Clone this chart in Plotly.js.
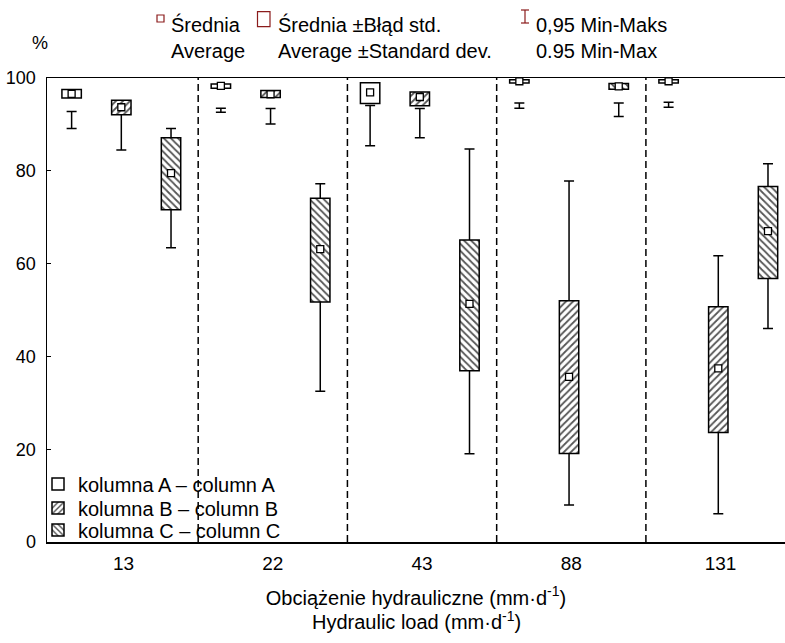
<!DOCTYPE html>
<html><head><meta charset="utf-8">
<script src="https://cdn.plot.ly/plotly-3.0.1.min.js"></script>
<style>html,body{margin:0;padding:0;background:#fff}</style>
</head><body>
<div id="chart" style="width:785px;height:643px"></div>
<script>
// ---- data ----
const categories = ['13', '22', '43', '88', '131'];

const A_mean = [96.6, 98.3, 96.9, 99.3, 99.3];
const A_lo   = [95.7, 97.8, 94.5, 98.9, 98.9];
const A_hi   = [97.5, 98.7, 99.0, 99.6, 99.6];
const A_wmin = [89.1, 92.6, 85.4, 93.5, 93.7];
const A_wmax = [92.8, 93.5, 94.1, 94.6, 94.8];

const B_mean = [93.7, 96.5, 95.9, 35.6, 37.4];
const B_lo   = [92.1, 95.8, 94.0, 19.1, 23.6];
const B_hi   = [95.2, 97.3, 97.0, 52.0, 50.7];
const B_wmin = [84.5, 90.1, 87.1, 8.0, 6.1];
const B_wmax = [94.5, 93.4, 93.4, 77.8, 61.7];

const C_mean = [79.5, 63.1, 51.3, 98.2, 67.0];
const C_lo   = [71.6, 51.7, 36.9, 97.6, 56.8];
const C_hi   = [87.1, 74.1, 65.1, 98.8, 76.6];
const C_wmin = [63.4, 32.5, 19.0, 91.7, 46.0];
const C_wmax = [89.1, 77.2, 84.7, 94.6, 81.5];

const seriesNames = ['kolumna A – column A', 'kolumna B – column B', 'kolumna C – column C'];
const xTitleLines = ['Obciążenie hydrauliczne (mm·d<sup>-1</sup>)', 'Hydraulic load (mm·d<sup>-1</sup>)'];

// ---- layout helpers ----
const FONT = '"Liberation Sans", Arial, sans-serif';
const W = 785, H = 643, ML = 47, MR = 0, MT = 78, MB = 101;
const PW = W - ML - MR, PH = H - MT - MB;
const px = x => (x - ML) / PW;
const py = y => (H - MB - y) / PH;
const XR = [-0.513, 4.432];
const BOXW = 0.13;
const RED = '#8b1c1c';

function build(lo, hi, mean, wmin, wmax, off, name, legendId, pattern) {
  const xs = categories.map((c, i) => i + off);
  const whisk = {
    type: 'scatter', mode: 'markers', x: xs,
    y: wmin.map((v, i) => (v + wmax[i]) / 2),
    marker: {size: 1, color: 'rgba(0,0,0,0)'},
    error_y: {type: 'data', symmetric: false,
      array: wmax.map((v, i) => v - (v + wmin[i]) / 2),
      arrayminus: wmin.map((v, i) => (v + wmax[i]) / 2 - v),
      width: 5, thickness: 1.5, color: '#000'},
    cliponaxis: false, showlegend: false, hoverinfo: 'skip', xaxis: 'x', yaxis: 'y'
  };
  const marker = {color: '#fff', line: {color: '#000', width: 1.5}};
  if (pattern) marker.pattern = {shape: pattern, fgcolor: '#555', bgcolor: '#fff', size: 5, solidity: 0.35, fillmode: 'replace'};
  const box = {
    type: 'bar', name: name, x: xs, base: lo, y: hi.map((v, i) => v - lo[i]),
    width: BOXW, marker: marker, legend: legendId,
    xaxis: 'x2', yaxis: 'y2', hoverinfo: 'skip'
  };
  const mk = {
    type: 'scatter', mode: 'markers', x: xs, y: mean,
    marker: {symbol: 'square', size: 7, color: '#fff', line: {color: '#000', width: 1.3}},
    cliponaxis: false, showlegend: false, hoverinfo: 'skip', xaxis: 'x2', yaxis: 'y2'
  };
  return [whisk, box, mk];
}

const tA = build(A_lo, A_hi, A_mean, A_wmin, A_wmax, -0.348, seriesNames[0], 'legend', null);
const tB = build(B_lo, B_hi, B_mean, B_wmin, B_wmax, -0.015, seriesNames[1], 'legend2', '/');
const tC = build(C_lo, C_hi, C_mean, C_wmin, C_wmax, 0.318, seriesNames[2], 'legend3', '\\');
const data = [tA[0], tB[0], tC[0], tA[1], tB[1], tC[1], tA[2], tB[2], tC[2]];

const shapes = [];
categories.slice(1).forEach((c, i) => {
  shapes.push({type: 'line', xref: 'x', yref: 'paper', x0: i + 0.5, x1: i + 0.5, y0: 0, y1: 1,
    line: {color: '#000', width: 1.5, dash: '7px,4px'}});
});
// top legend icons
shapes.push({type: 'rect', xref: 'paper', yref: 'paper', x0: px(157), x1: px(164), y0: py(22), y1: py(15), line: {color: RED, width: 1.2}, fillcolor: '#fff'});
shapes.push({type: 'rect', xref: 'paper', yref: 'paper', x0: px(257.5), x1: px(270), y0: py(26.7), y1: py(11.7), line: {color: RED, width: 1.2}, fillcolor: '#fff'});
shapes.push({type: 'line', xref: 'paper', yref: 'paper', x0: px(525), x1: px(525), y0: py(23), y1: py(10), line: {color: RED, width: 1.2}});
shapes.push({type: 'line', xref: 'paper', yref: 'paper', x0: px(521), x1: px(529), y0: py(10), y1: py(10), line: {color: RED, width: 1.2}});
shapes.push({type: 'line', xref: 'paper', yref: 'paper', x0: px(521), x1: px(529), y0: py(23), y1: py(23), line: {color: RED, width: 1.2}});

const tf = {family: FONT, size: 20, color: '#000'};
const annotations = [
  {text: 'Średnia<br>Average', x: px(169), y: py(38)},
  {text: 'Średnia ±Błąd std.<br>Average ±Standard dev.', x: px(276), y: py(38)},
  {text: '0,95 Min-Maks<br>0.95 Min-Max', x: px(534), y: py(38)}
].map(a => Object.assign({xref: 'paper', yref: 'paper', xanchor: 'left', yanchor: 'middle', align: 'left', showarrow: false, font: tf}, a));
annotations.push({text: '%', xref: 'paper', yref: 'paper', x: px(40), y: py(43), xanchor: 'center', yanchor: 'middle', showarrow: false, font: {family: FONT, size: 18, color: '#000'}});
annotations.push({text: xTitleLines[1], xref: 'paper', yref: 'paper', x: 0.5, y: py(620), xanchor: 'center', yanchor: 'middle', showarrow: false, font: tf});

const leg = y => ({x: px(38), y: py(y), xanchor: 'left', yanchor: 'middle', bgcolor: 'rgba(0,0,0,0)', borderwidth: 0, font: tf});

const layout = {
  width: W, height: H, margin: {l: ML, r: MR, t: MT, b: MB, pad: 0},
  paper_bgcolor: '#fff', plot_bgcolor: '#fff', barmode: 'overlay',
  font: {family: FONT, color: '#000'},
  xaxis: {range: XR, tickvals: categories.map((c, i) => i), ticktext: categories, ticks: '',
    showline: true, mirror: true, linecolor: '#000', linewidth: 1.5, showgrid: false, zeroline: false,
    tickfont: {family: FONT, size: 19, color: '#000'}, ticklabelstandoff: 4,
    title: {text: xTitleLines[0], font: tf, standoff: 17}},
  yaxis: {range: [0, 100], dtick: 20, ticks: 'inside', ticklen: 4, tickwidth: 1, tickcolor: '#000',
    showline: true, linecolor: '#000', linewidth: 1.5, showgrid: false, zeroline: false,
    tickfont: {family: FONT, size: 18, color: '#000'}, ticklabelstandoff: 6},
  xaxis2: {range: XR, overlaying: 'x', anchor: 'y2', visible: false},
  yaxis2: {range: [0, 100], overlaying: 'y', anchor: 'x2', visible: false},
  legend: leg(484), legend2: leg(508), legend3: leg(530),
  shapes: shapes, annotations: annotations
};

Plotly.newPlot('chart', data, layout, {displayModeBar: false, staticPlot: true});
</script>
</body></html>
